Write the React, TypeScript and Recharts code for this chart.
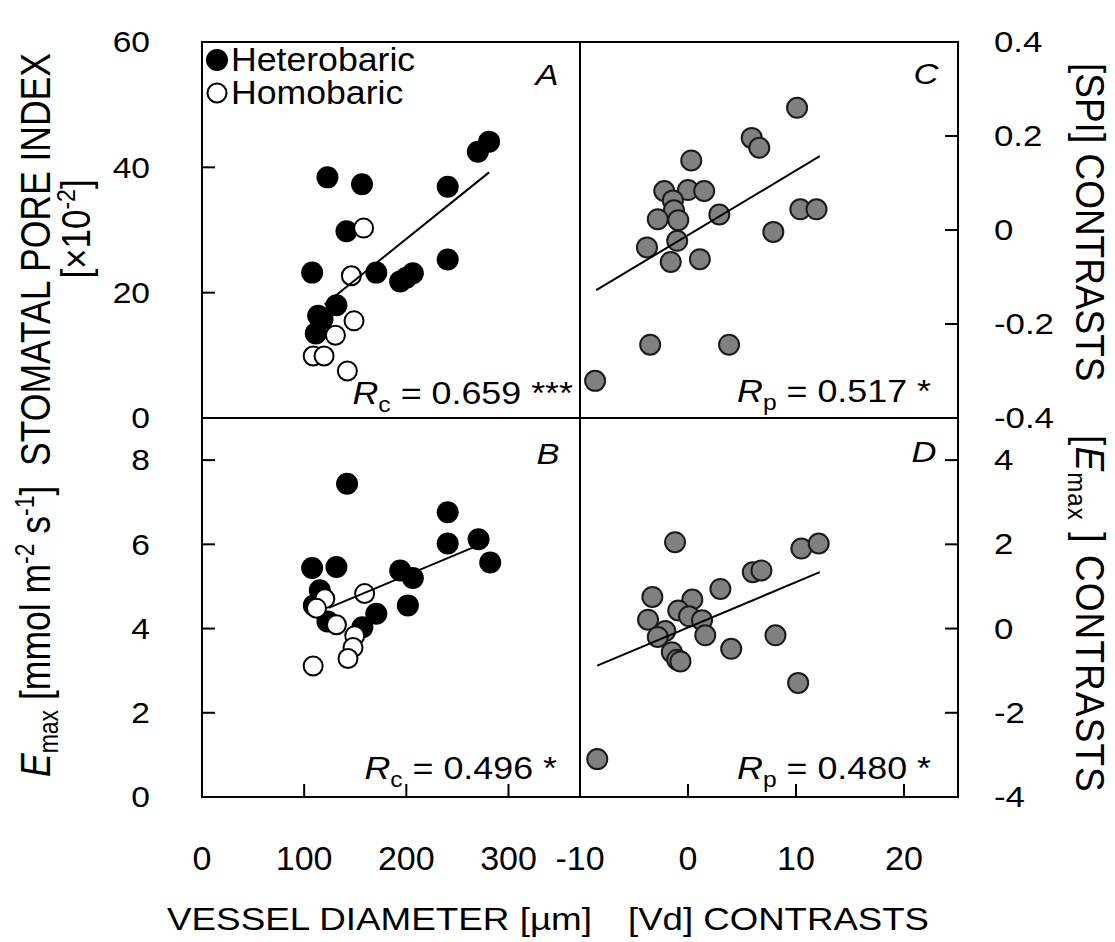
import React from "react";
import { ScatterChart, Scatter, XAxis, YAxis, ReferenceArea } from "recharts";

const W = 1115;
const H = 942;
const FONT = "'Liberation Sans', Arial, sans-serif";

// panel edges in px
const LEFT = 202;
const MIDX = 580;
const RIGHT = 958;
const TOP = 42;
const MIDY = 418;
const BOTTOM = 797;

// A: stomatal pore index vs vessel diameter
const spiHetero = [
  [281, 44.1], [270, 42.5], [122.8, 38.4], [156.6, 37.3], [240.5, 36.9],
  [141.4, 29.8], [107.8, 23.2], [170.6, 23.2], [194, 21.8], [200, 22.4],
  [206.4, 23.1], [240.5, 25.3], [131.6, 18.0], [113.7, 16.3], [118, 15.8],
  [111.4, 13.5],
];
const spiHomo = [
  [158.2, 30.3], [146.2, 22.7], [148.8, 15.5], [130.6, 13.2],
  [108.8, 9.9], [119.5, 9.9], [142.3, 7.5],
];
const spiFit = [[120, 18.1], [281, 39.2]];

// B: Emax vs vessel diameter
const emaxHetero = [
  [142, 7.44], [240.5, 6.76], [240.5, 6.02], [270.7, 6.12], [282.1, 5.57],
  [107.8, 5.44], [131.6, 5.46], [194, 5.38], [206.4, 5.2], [115.3, 4.91],
  [109.5, 4.55], [122.8, 4.17], [170.6, 4.35], [157, 4.03], [201.5, 4.55],
];
const emaxHomo = [
  [159.2, 4.83], [120.2, 4.71], [112.1, 4.48], [131.6, 4.09],
  [149.5, 3.83], [147.8, 3.55], [142.9, 3.29], [108.8, 3.11],
];
const emaxFit = [[124, 4.49], [265, 5.92]];

// C: SPI contrasts vs Vd contrasts
const spiContrasts = [
  [10.1, 0.26], [5.9, 0.196], [6.6, 0.175], [0.3, 0.148], [-2.2, 0.083],
  [0.0, 0.085], [1.5, 0.083], [-1.4, 0.063], [-1.3, 0.042], [-2.8, 0.023],
  [-0.9, 0.021], [2.9, 0.033], [10.4, 0.044], [11.9, 0.044], [7.9, -0.004],
  [-1.0, -0.023], [-3.8, -0.037], [-1.6, -0.068], [1.1, -0.062],
  [-3.5, -0.244], [3.8, -0.244], [-8.6, -0.321],
];
const spiContrastFit = [[-8.5, -0.128], [12.2, 0.157]];

// D: Emax contrasts vs Vd contrasts
const emaxContrasts = [
  [-1.2, 2.05], [10.5, 1.9], [12.1, 2.02], [6.0, 1.34], [6.8, 1.38],
  [3.0, 0.94], [-3.3, 0.75], [0.4, 0.69], [-0.9, 0.43], [-3.7, 0.21],
  [0.1, 0.29], [1.3, 0.2], [-2.1, -0.06], [-2.8, -0.2], [1.6, -0.16],
  [8.1, -0.16], [4.0, -0.48], [-1.5, -0.56], [-1.0, -0.74], [-0.7, -0.78],
  [10.2, -1.29], [-8.4, -3.1],
];
const emaxContrastFit = [[-8.4, -0.88], [12.2, 1.34]];

const diamTicks = [0, 100, 200, 300];
const vdTicks = [-10, 0, 10, 20];
const spiTicks = [0, 20, 40, 60];
const emaxTicks = [0, 2, 4, 6, 8];
const spiConTicks = [-0.4, -0.2, 0, 0.2, 0.4];
const emaxConTicks = [-4, -2, 0, 2, 4];

const toXY = (pts: number[][]) => pts.map(([x, y]) => ({ x, y }));

const filledDot = (p: any) => <circle cx={p.cx} cy={p.cy} r={11} fill="#000" />;
const openDot = (p: any) => (
  <circle cx={p.cx} cy={p.cy} r={9.5} fill="#fff" stroke="#000" strokeWidth={2} />
);
const greyDot = (p: any) => (
  <circle cx={p.cx} cy={p.cy} r={10} fill="#808080" stroke="#1a1a1a" strokeWidth={2} />
);
const noDot = () => <g />;

const tickText = (anchor: string, size: number, sx: number) => (p: any) => (
  <text
    x={0}
    y={0}
    transform={`translate(${p.x},${p.y}) scale(${sx},1)`}
    textAnchor={anchor}
    dominantBaseline="central"
    fontSize={size}
    fontFamily={FONT}
    fill="#000"
  >
    {p.payload.value}
  </text>
);
const leftTick = tickText("end", 30, 1.12);
const rightTick = tickText("start", 29, 1.2);
const bottomTick = tickText("middle", 34, 1);

type Layer = { data: number[][]; shape: (p: any) => React.ReactElement };

// axes need a positive size to be drawn, so they get 1px each
const AX = 1;

function Panel(props: {
  box: { left: number; top: number; right: number; bottom: number };
  xDomain: number[];
  yDomain: number[];
  xTicks?: number[];
  yTicks: number[];
  yRight?: boolean;
  layers: Layer[];
  fit: number[][];
}) {
  const { box, xDomain, yDomain, xTicks, yTicks, yRight, layers, fit } = props;
  const tl = { stroke: "#000", strokeWidth: 2 };
  return (
    <div style={{ position: "absolute", left: 0, top: 0 }}>
      <ScatterChart
        width={W}
        height={H}
        margin={{
          top: box.top,
          left: yRight ? box.left : box.left - AX,
          right: yRight ? W - box.right - AX : W - box.right,
          bottom: xTicks ? H - box.bottom - AX : H - box.bottom,
        }}
      >
        <XAxis
          type="number"
          dataKey="x"
          domain={xDomain}
          ticks={xTicks || []}
          hide={!xTicks}
          height={AX}
          axisLine={false}
          tickSize={-13}
          tickMargin={74}
          tickLine={tl}
          tick={bottomTick}
          interval={0}
        />
        <YAxis
          type="number"
          dataKey="y"
          domain={yDomain}
          ticks={yTicks}
          width={AX}
          orientation={yRight ? "right" : "left"}
          axisLine={false}
          tickSize={-13}
          tickMargin={yRight ? 49 : 65}
          tickLine={tl}
          tick={yRight ? rightTick : leftTick}
          interval={0}
        />
        <ReferenceArea
          x1={xDomain[0]}
          x2={xDomain[1]}
          y1={yDomain[0]}
          y2={yDomain[1]}
          fill="none"
          fillOpacity={0}
          stroke="#000"
          strokeWidth={2}
          ifOverflow="visible"
        />
        {layers.map((l, i) => (
          <Scatter key={i} data={toXY(l.data)} shape={l.shape} isAnimationActive={false} />
        ))}
        <Scatter
          data={toXY(fit)}
          line={{ stroke: "#000", strokeWidth: 2 }}
          shape={noDot}
          isAnimationActive={false}
        />
      </ScatterChart>
    </div>
  );
}

function Annot(props: { x: number; y: number; sub: string; rest: string }) {
  return (
    <text
      x={0}
      y={0}
      transform={`translate(${props.x},${props.y}) scale(1.12,1)`}
      textAnchor="end"
      fontSize={32}
      fontFamily={FONT}
      style={{ whiteSpace: "pre" }}
    >
      <tspan fontStyle="italic">R</tspan>
      <tspan fontSize={22} dy={8}>{props.sub}</tspan>
      <tspan dy={-8}>{props.rest}</tspan>
    </text>
  );
}

function Letter(props: { x: number; y: number; t: string }) {
  return (
    <text
      x={0}
      y={0}
      transform={`translate(${props.x},${props.y}) scale(1.15,1)`}
      textAnchor="middle"
      fontStyle="italic"
      fontSize={30}
      fontFamily={FONT}
    >
      {props.t}
    </text>
  );
}

export default function App() {
  return (
    <div style={{ position: "absolute", left: 0, top: 0, width: W, height: H, background: "#fff" }}>
      <Panel
        box={{ left: LEFT, top: TOP, right: MIDX, bottom: MIDY }}
        xDomain={[0, 370]}
        yDomain={[0, 60]}
        yTicks={spiTicks}
        layers={[{ data: spiHetero, shape: filledDot }, { data: spiHomo, shape: openDot }]}
        fit={spiFit}
      />
      <Panel
        box={{ left: LEFT, top: MIDY, right: MIDX, bottom: BOTTOM }}
        xDomain={[0, 370]}
        yDomain={[0, 9]}
        xTicks={diamTicks}
        yTicks={emaxTicks}
        layers={[{ data: emaxHetero, shape: filledDot }, { data: emaxHomo, shape: openDot }]}
        fit={emaxFit}
      />
      <Panel
        box={{ left: MIDX, top: TOP, right: RIGHT, bottom: MIDY }}
        xDomain={[-10, 25]}
        yDomain={[-0.4, 0.4]}
        yTicks={spiConTicks}
        yRight
        layers={[{ data: spiContrasts, shape: greyDot }]}
        fit={spiContrastFit}
      />
      <Panel
        box={{ left: MIDX, top: MIDY, right: RIGHT, bottom: BOTTOM }}
        xDomain={[-10, 25]}
        yDomain={[-4, 5]}
        xTicks={vdTicks}
        yTicks={emaxConTicks}
        yRight
        layers={[{ data: emaxContrasts, shape: greyDot }]}
        fit={emaxContrastFit}
      />

      <svg
        width={W}
        height={H}
        style={{ position: "absolute", left: 0, top: 0, pointerEvents: "none" }}
        fontFamily={FONT}
      >
        {/* legend */}
        <circle cx={217} cy={60} r={11} fill="#000" />
        <circle cx={217} cy={93} r={9.5} fill="#fff" stroke="#000" strokeWidth={2} />
        <text x={0} y={0} transform="translate(231,71) scale(1.08,1)" fontSize={33}>Heterobaric</text>
        <text x={0} y={0} transform="translate(231,104) scale(1.08,1)" fontSize={33}>Homobaric</text>

        <Letter x={547} y={85} t="A" />
        <Letter x={926} y={84} t="C" />
        <Letter x={548} y={464} t="B" />
        <Letter x={924} y={462} t="D" />

        <Annot x={573} y={404} sub="c" rest={" = 0.659 ***"} />
        <Annot x={931} y={402} sub="p" rest={" = 0.517 *"} />
        <Annot x={557} y={779} sub="c" rest={" = 0.496 *"} />
        <Annot x={931} y={779} sub="p" rest={" = 0.480 *"} />

        {/* left title */}
        <text transform="translate(50,777) scale(1.2,1) rotate(-90)" fontSize={35.5} style={{ whiteSpace: "pre" }}>
          <tspan fontStyle="italic">E</tspan>
          <tspan fontSize={23} dy={7}>max</tspan>
          <tspan dy={-7}>{" [mmol m"}</tspan>
          <tspan fontSize={23} dy={-13}>-2</tspan>
          <tspan dy={13}>{" s"}</tspan>
          <tspan fontSize={23} dy={-13}>-1</tspan>
          <tspan dy={13}>{"]  STOMATAL PORE INDEX"}</tspan>
        </text>
        <text transform="translate(90,229) scale(1.15,1) rotate(-90)" fontSize={35} textAnchor="middle">
          <tspan>[×10</tspan>
          <tspan fontSize={23} dy={-13}>-2</tspan>
          <tspan dy={13}>]</tspan>
        </text>

        {/* right titles */}
        <text transform="translate(1076,63) scale(1.1,1) rotate(90)" fontSize={37} style={{ whiteSpace: "pre" }}>
          [SPI] CONTRASTS
        </text>
        <text
          transform="translate(1076,435) scale(1.1,1) rotate(90)"
          fontSize={37}
          letterSpacing={1.1}
          style={{ whiteSpace: "pre" }}
        >
          <tspan>[</tspan>
          <tspan fontStyle="italic">E</tspan>
          <tspan fontSize={24} dy={7}>max</tspan>
          <tspan dy={-7}>{" ] CONTRASTS"}</tspan>
        </text>

        {/* bottom titles */}
        <text x={167} y={930} fontSize={32} textLength={425} lengthAdjust="spacingAndGlyphs">
          VESSEL DIAMETER [µm]
        </text>
        <text x={628} y={930} fontSize={32} textLength={301} lengthAdjust="spacingAndGlyphs">
          [Vd] CONTRASTS
        </text>
      </svg>
    </div>
  );
}
